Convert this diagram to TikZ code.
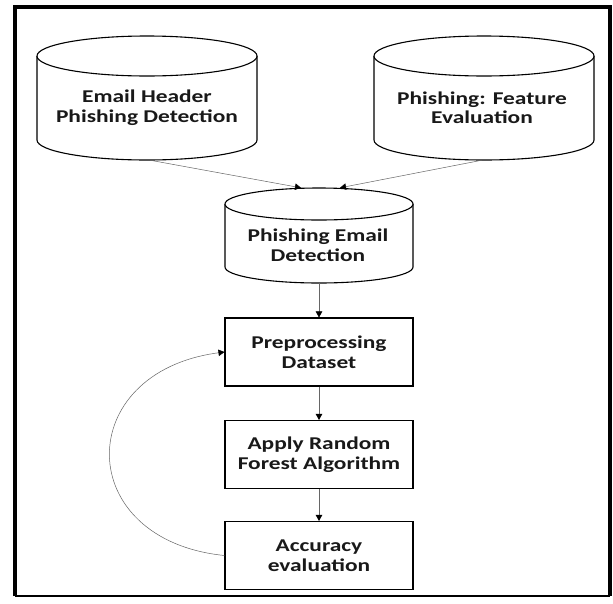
\documentclass[tikz,border=0pt]{standalone}
\usepackage{fontspec}
\setmainfont{Carlito}[FakeStretch=1.3]
\usetikzlibrary{arrows.meta}
\tikzset{
  lbl/.style={font=\fontsize{18}{19.5}\selectfont\bfseries, align=center, text=black!90},
  cylbox/.style={inner sep=0pt, minimum width=#1},
  proc/.style={draw, line width=1.1pt, minimum width=188pt, minimum height=68pt, lbl},
  conn/.style={draw=black!60, line width=0.5pt, -{Triangle[length=6pt,width=6.5pt,fill=black,color=black]}},
  cylline/.style={draw=black, line width=1.1pt, fill=white}
}
% #1 name, #2 cx, #3 top, #4 bottom, #5 rx, #6 ry
\newcommand\mycyl[6]{%
  \node[cylbox=#5*2pt, minimum height=#4pt-#3pt] (#1) at (#2,{(#3+#4)/2}) {};
  \draw[cylline] (#2-#5,#3+#6) -- (#2-#5,#4-#6)
    arc[start angle=180,end angle=0,x radius=#5,y radius=#6] -- (#2+#5,#3+#6);
  \draw[cylline] (#2,#3+#6) ellipse[x radius=#5,y radius=#6];
}
\begin{document}
\begin{tikzpicture}[x=1pt,y=-1pt]
\useasboundingbox (0,0) rectangle (613,603);
\fill[white] (0,0) rectangle (613,603);
% frame
\draw[line width=3.5pt] (15,596) -- (15,7) -- (610,7) -- (610,596);
\draw[line width=1.2pt] (15,596) -- (610,596);
% cylinders
\mycyl{src1}{147}{36}{160}{110}{20}
\node[lbl] (t1) at (147,107.5) {Email Header\\Phishing Detection};
\mycyl{src2}{484}{36}{160}{110}{20}
\node[lbl] (t2) at (482,107.5) {Phishing: Feature\\Evaluation};
\mycyl{data}{319}{188}{283}{94}{16}
\node[lbl] (t3) at (318,245) {Phishing Email\\Detection};
% process boxes
\node[proc] (pre) at (319,352) {Preprocessing\\Dataset};
\node[proc] (rf) at (319,454.5) {Apply Random\\Forest Algorithm};
\node[proc] (acc) at (319,555.5) {Accuracy\\evaluation};
% connectors
\draw[conn] ([xshift=3pt]src1.south) -- ([xshift=-18pt]data.north);
\draw[conn] ([xshift=-2pt]src2.south) -- ([xshift=21pt]data.north);
\draw[conn] (data.south) -- (pre.north);
\draw[conn] (pre.south) -- (rf.north);
\draw[conn] (rf.south) -- (acc.north);
\draw[conn] (acc.west) .. controls (72,540) and (72,372) .. (pre.west);
\end{tikzpicture}
\end{document}
